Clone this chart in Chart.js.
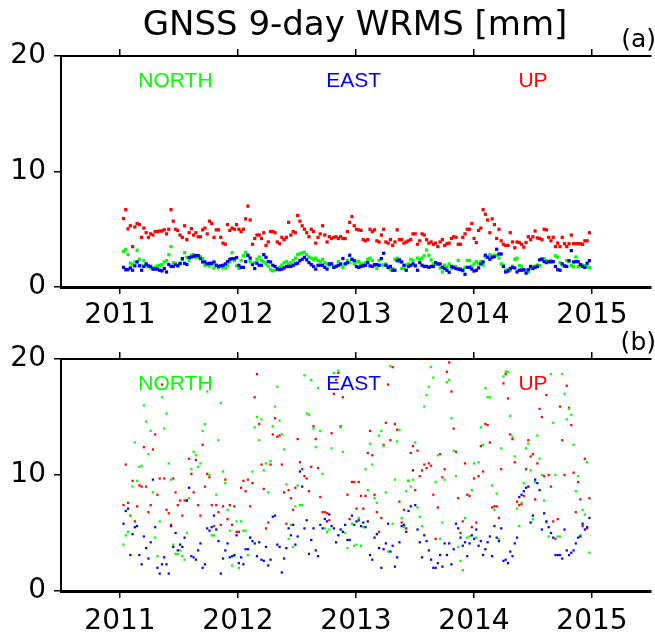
<!DOCTYPE html>
<html>
<head>
<meta charset="utf-8">
<script src="https://cdn.jsdelivr.net/npm/chart.js@4.4.1/dist/chart.umd.min.js"></script>
<style>
  html, body { margin: 0; padding: 0; background: #fff; }
  #wrap { position: relative; width: 655px; height: 635px; overflow: hidden; background: #fff; }
  .panel { position: absolute; left: 0; width: 655px; }
  #panelA { top: 0; height: 336px; z-index: 2; }
  #panelB { top: 320px; height: 315px; z-index: 1; }
</style>
</head>
<body>
<div id="wrap">
  <div class="panel" id="panelA"><canvas id="chartA" width="655" height="336"></canvas></div>
  <div class="panel" id="panelB"><canvas id="chartB" width="655" height="315"></canvas></div>
</div>
<script>
// -- axis ticks and labels --
const yearTicks = [2011, 2012, 2013, 2014, 2015]
const valueTicks = [0, 10, 20]
const componentNames = ['NORTH', 'EAST', 'UP']

// weekly solutions, first epoch ~2011.03
const firstEpoch = 2011.03
const stepYears = 7 / 365.25

// -- panel (a) : WRMS per component [mm] --
const northA = [
  3.1, 3.27, 2.81, 2.06, 1.94, 2.17, 3.18, 2.4, 1.88, 2.28, 1.88, 1.78, 1.65, 1.65, 1.7, 1.83, 1.88, 1.94, 2.17, 2.28,
  2.8, 3.5, 2.1, 2.06, 1.88, 2.0, 2.4, 2.98, 2.57, 2.28, 2.75, 2.8, 2.57, 2.57, 2.63, 2.46, 1.88, 2.0, 1.83, 1.94,
  1.65, 1.88, 1.65, 1.83, 1.65, 1.65, 1.88, 2.17, 2.98, 2.28, 1.83,
  1.6, 2.3, 2.7, 3.0, 2.7, 2.2, 2.0, 2.1, 2.4, 2.6, 2.3, 2.2, 2.0, 1.8, 1.5, 1.4, 1.45, 1.6,
  1.7, 1.9, 2.1, 2.2, 2.0, 2.1, 2.3, 2.5, 2.8, 2.9, 2.95, 3.0, 2.8, 2.6, 2.5, 2.4, 2.5, 2.3, 2.2, 2.4, 2.1, 2.0,
  1.9, 2.0, 1.7, 1.8, 2.2, 1.9, 1.7, 2.0, 2.3, 2.1, 2.4, 2.0, 2.2,
  2.2, 2.0, 2.0, 2.1, 2.4, 2.5, 2.3, 1.9, 1.6, 2.3, 1.9, 1.9, 2.0, 1.8, 1.5, 1.6, 2.4, 2.5, 2.2, 1.6, 1.6,
  1.9, 2.0, 2.4, 2.3, 1.9, 2.5, 2.4, 2.5, 2.7, 3.2, 2.75, 2.35, 2.0, 1.95, 1.95, 1.65, 1.3, 1.9, 1.75, 2.0, 1.6,
  1.7, 1.75, 2.3, 1.6, 1.4, 1.7, 2.3, 2.3, 1.8, 2.0,
  2.2, 2.0, 2.2, 1.9, 2.6, 2.6, 2.8, 2.7, 2.75, 2.75, 2.5, 2.0, 1.9, 1.45, 1.5, 1.45, 1.8, 2.4, 2.5, 1.85,
  1.75, 1.5, 1.4, 1.3, 1.6, 1.75, 1.8, 1.9, 1.85, 2.45, 2.45, 2.3, 2.2, 2.3, 2.2, 2.7, 2.6, 2.1, 1.9, 1.8,
  2.3, 2.2, 1.85, 1.75, 2.6, 1.75, 1.85, 1.9, 1.85, 1.75, 1.7
]
const eastA = [
  1.7, 1.5, 1.5, 1.65, 1.45, 1.83, 2.17, 1.83, 1.45, 1.78, 2.0, 1.83, 1.78, 1.55, 1.55, 1.55, 1.45, 1.4, 1.6, 1.3,
  1.95, 1.78, 1.78, 1.95, 1.83, 2.05, 2.46, 2.05, 1.95, 2.55, 2.6, 2.66, 2.72, 2.72, 2.46, 2.17, 2.17, 2.0, 2.05, 2.05,
  2.17, 1.88, 1.78, 1.83, 1.88, 2.0, 2.2, 2.4, 2.46, 2.46, 2.55,
  1.88, 1.7, 1.7, 2.2, 2.75, 2.5, 1.94, 1.6, 2.06, 1.88, 1.88, 2.8, 2.57, 2.2, 2.17, 1.88, 1.78, 1.55, 1.5, 1.55,
  1.65, 1.78, 1.78, 1.78, 1.88, 2.0, 2.06, 2.28, 2.4, 2.57, 2.35, 2.11, 1.94, 1.78, 1.55, 1.88, 1.88, 1.88, 1.7, 1.55,
  2.0, 2.0, 1.7, 1.78, 1.88, 2.0, 2.46, 2.0, 2.11, 2.75, 2.4, 2.28, 1.78,
  1.7, 1.78, 1.83, 1.88, 2.11, 1.83, 1.78, 1.94, 1.94, 1.88, 2.46, 2.92, 1.88, 1.7, 1.78, 1.45, 1.45, 2.28, 2.35, 2.17,
  1.88, 1.45, 1.78, 1.88, 2.0, 1.83, 1.45, 2.11, 1.88, 1.78, 1.78, 1.7, 1.78, 1.78, 2.11, 2.0, 2.0, 1.7, 1.6, 1.45,
  1.27, 1.78, 1.7, 1.6, 1.55, 1.5, 1.45, 1.1, 1.7, 1.7, 1.55, 1.38,
  1.45, 1.65, 2.0, 2.17, 2.75, 2.57, 2.4, 2.57, 2.63, 3.27, 2.86, 2.86, 1.78, 1.3, 1.38, 1.6, 1.7, 1.65, 1.3, 1.45,
  1.45, 1.5, 1.2, 1.5, 1.78, 1.6, 1.7, 1.78, 2.35, 2.4, 2.2, 2.11, 2.2, 2.17, 2.2, 1.78, 1.5, 1.45, 2.0, 1.83,
  1.78, 2.28, 3.15, 2.17, 2.2, 2.2, 1.94, 1.78, 1.7, 2.06, 2.28
]
const upA = [
  5.93, 6.7, 5.03, 5.3, 3.5, 5.2, 5.5, 5.4, 4.3, 5.1, 4.7, 4.3, 4.6, 4.5, 4.8, 4.8, 4.85, 4.85, 4.95, 4.6,
  5.0, 6.7, 5.7, 5.0, 4.9, 4.5, 4.3, 5.3, 4.1, 4.7, 5.05, 4.5, 4.7, 4.35, 4.35, 4.95, 5.1, 4.6, 5.7, 5.5,
  4.3, 4.95, 4.95, 4.3, 3.8, 3.7, 5.4, 4.9, 5.1, 5.0, 5.4,
  5.0, 4.8, 5.0, 5.9, 7.0, 5.8, 3.7, 4.2, 4.5, 4.5, 4.2, 4.7, 3.6, 3.9, 4.8, 4.8, 4.7, 3.9, 3.75, 4.3,
  4.1, 4.3, 5.6, 4.5, 4.8, 4.7, 6.2, 5.7, 5.3, 5.0, 4.7, 4.35, 5.0, 4.8, 3.8, 4.3, 4.6, 5.3, 4.5, 3.9,
  4.35, 4.2, 4.3, 4.35, 4.2, 4.35, 4.2, 4.2, 4.8, 5.6, 6.1, 5.3, 5.0,
  4.95, 4.9, 4.1, 4.0, 4.1, 5.0, 4.8, 4.95, 4.0, 3.9, 4.5, 5.0, 3.9, 3.8, 4.1, 3.6, 3.9, 4.95, 4.1, 4.1,
  3.8, 3.9, 4.0, 4.1, 4.6, 4.6, 3.7, 4.0, 4.6, 4.5, 4.1, 3.8, 3.9, 3.7, 3.8, 3.5, 3.9, 4.1, 3.6, 3.75,
  3.8, 4.2, 4.35, 4.3, 3.7, 3.7, 4.3, 4.6, 5.0, 5.0,
  5.5, 4.2, 3.85, 4.9, 5.1, 6.7, 6.3, 5.8, 4.7, 5.9, 5.4, 4.2, 5.0, 4.0, 3.7, 3.6, 3.6, 4.7, 3.9, 3.4,
  3.9, 3.85, 3.7, 3.45, 3.85, 4.35, 4.1, 4.35, 4.85, 4.25, 4.2, 4.1, 5.0, 4.95, 4.3, 4.0, 4.3, 3.5, 3.8, 3.5,
  4.3, 3.75, 3.5, 3.75, 4.5, 3.75, 3.75, 3.75, 3.75, 3.7, 4.0, 4.0, 4.7
]

// -- panel (b) --
const northB = [
  4.0, 4.8, 5.1, 6.5, 9.0, 12.8, 9.5, 10.7, 10.8, 16.0, 14.6, 11.8, 13.8, 8.5, 4.6, 3.0, 6.0, 16.7, 14.0, 15.3,
  11.0, 9.6, 4.0, 3.2, 3.2, 3.5, 3.0, 2.7, 5.0, 8.0, 10.5, 12.0, 11.7, 10.7, 11.0, 13.8, 14.4, 17.2, 10.0, 4.8,
  4.8, 8.3, 13.0, 16.2, 10.3, 9.3, 7.0, 5.2, 2.2, 3.0, 6.0,
  2.0, 6.0, 5.2, 5.2, 3.1, 4.6, 10.3, 14.1, 15.0, 13.0, 14.8, 10.4, 11.0, 8.5, 11.2, 14.2, 15.9, 17.6, 14.7, 13.5,
  12.2, 9.2, 4.5, 5.7, 3.8, 7.3, 9.1, 7.4, 7.4, 18.6, 15.3, 15.2, 18.2, 14.0, 12.4, 17.5, 13.8, 10.1, 5.4, 5.1,
  5.3, 12.3, 18.8, 21.0, 19.0, 14.1, 12.0, 5.0, 3.7, 4.4, 5.8, 3.9, 4.0,
  6.3, 3.9, 5.5, 10.5, 8.7, 12.7, 10.9, 8.0, 7.6, 13.4, 13.8, 12.5, 8.5, 3.4, 19.4, 5.8, 9.6, 12.9, 13.9, 6.3,
  5.5, 8.6, 9.5, 9.0, 9.6, 12.8, 7.2, 6.4, 5.6, 15.9, 16.9, 17.6, 19.3, 18.4, 9.4, 11.7, 4.5, 5.9, 9.6, 18.0,
  18.2, 14.9, 12.1, 9.9, 3.8, 2.6, 1.8, 6.3, 4.6, 4.7, 8.7, 11.0,
  4.6, 11.1, 14.1, 12.6, 17.5, 16.7, 16.7, 9.1, 7.0, 8.4, 4.5, 12.3, 18.5, 18.9, 18.9, 15.1, 13.3, 11.6, 7.1, 5.6,
  7.6, 9.3, 12.3, 12.7, 10.4, 6.2, 9.4, 13.4, 11.4, 10.0, 7.8, 5.9, 4.7, 18.7, 14.5, 10.0, 4.7, 4.7, 18.7, 17.0,
  14.8, 15.7, 15.2, 12.6, 8.6, 9.9, 4.8, 7.0, 6.6, 11.1, 3.3
]
const eastB = [
  5.8, 6.9, 7.1, 3.1, 4.9, 5.5, 5.6, 3.1, 2.3, 4.7, 3.7, 2.8, 4.2, 9.6, 5.5, 2.0, 1.5, 2.3, 2.9, 2.3,
  1.5, 5.6, 3.8, 5.0, 3.5, 4.0, 3.8, 4.6, 7.8, 8.9, 3.0, 2.9, 2.7, 3.5, 4.1, 2.0, 2.3, 5.4, 5.2, 5.5,
  6.5, 5.3, 4.3, 1.5, 2.8, 3.5, 4.1, 2.9, 3.0, 3.1, 4.8,
  2.4, 2.9, 2.3, 3.6, 3.6, 4.6, 4.3, 4.1, 3.0, 4.2, 2.7, 2.6, 3.8, 2.2, 2.7, 6.4, 6.5, 4.0, 3.8, 1.6,
  2.8, 3.7, 5.4, 4.8, 5.7, 4.0, 4.7, 10.3, 9.0, 5.4, 6.1, 3.2, 4.4, 5.4, 3.5, 3.0, 5.7, 5.4, 6.2, 6.0,
  6.6, 5.6, 5.4, 4.2, 4.8, 5.3, 5.1, 5.7, 4.4, 4.4, 6.5, 5.7, 6.0,
  6.1, 5.6, 5.9, 5.5, 6.0, 3.1, 2.7, 4.6, 4.9, 3.7, 2.0, 3.6, 4.1, 5.8, 3.4, 3.9, 2.1, 2.9, 4.2, 5.6,
  5.7, 5.1, 6.9, 7.3, 10.4, 7.4, 5.3, 4.2, 2.9, 4.8, 4.3, 3.5, 2.7, 2.0, 2.0, 2.4, 3.1, 2.1, 4.1, 3.1,
  4.1, 2.3, 3.6, 5.8, 5.4, 4.6, 3.9, 4.2, 3.0, 4.1, 4.8, 4.5,
  5.3, 3.9, 4.3, 3.1, 3.6, 4.2, 4.7, 3.0, 5.6, 4.6, 4.3, 5.4, 2.6, 2.7, 2.4, 3.4, 3.0, 4.1, 4.6, 8.1,
  8.3, 8.6, 8.9, 9.0, 5.9, 6.5, 9.6, 9.3, 8.7, 5.3, 6.7, 6.0, 5.5, 5.0, 4.6, 3.1, 3.1, 3.1, 2.8, 5.3,
  3.5, 3.1, 3.3, 3.5, 4.1, 4.6, 4.7, 5.8, 5.3, 5.5, 6.3
]
const upB = [
  7.4, 10.9, 7.6, 6.5, 9.5, 6.0, 7.3, 9.1, 9.0, 12.4, 9.0, 6.8, 7.4, 12.2, 13.5, 8.3, 9.7, 17.8, 9.7, 7.0,
  6.7, 5.7, 9.7, 8.5, 7.4, 7.8, 6.5, 7.8, 7.8, 11.4, 10.1, 8.5, 11.3, 7.4, 6.5, 12.6, 9.0, 10.1, 9.8, 7.4,
  5.6, 7.4, 6.8, 5.7, 7.3, 9.6, 6.2, 7.4, 5.7, 7.3, 5.1,
  5.1, 8.9, 9.5, 8.6, 9.6, 7.3, 9.3, 16.7, 18.7, 14.4, 10.9, 8.8, 5.4, 5.9, 10.9, 13.5, 14.9, 13.3, 13.4, 10.9,
  8.5, 5.8, 8.7, 8.0, 7.0, 8.9, 13.1, 11.1, 10.5, 9.9, 9.7, 8.6, 10.7, 14.2, 13.1, 10.6, 8.1, 6.8, 6.8, 6.7,
  6.1, 13.6, 17.0, 18.2, 18.8, 14.2, 16.7, 21.0, 8.3, 6.2, 9.4, 9.4, 7.1,
  9.4, 8.2, 7.1, 8.2, 11.9, 13.8, 11.7, 8.3, 6.8, 5.1, 6.3, 12.6, 14.5, 17.8, 13.0, 19.3, 14.4, 13.9, 7.7, 5.9,
  7.0, 5.4, 9.5, 11.9, 12.5, 8.7, 12.1, 9.9, 10.4, 10.9, 10.6, 11.0, 10.8, 8.3, 4.5, 7.2, 11.8, 9.8, 10.5, 18.9,
  19.7, 17.2, 14.0, 12.0, 8.0, 5.0, 6.0, 11.0, 8.3, 8.2, 5.5, 9.7,
  5.9, 9.9, 12.5, 10.3, 14.4, 14.3, 12.8, 7.2, 7.3, 7.3, 6.3, 10.5, 17.9, 18.7, 16.6, 13.5, 13.1, 11.1, 7.7, 7.4,
  7.5, 8.2, 10.5, 13.0, 11.6, 11.8, 7.9, 11.0, 15.7, 15.0, 9.9, 16.9, 10.0, 9.0, 6.0, 4.5, 6.2, 15.9, 13.0, 10.0,
  17.7, 15.8, 14.3, 10.2, 6.8, 9.4, 7.9, 5.6, 11.4, 5.4, 8.0
]

const componentColors = ['#00ff00', '#0000ff', '#ff0000']

function toPoints (values) {
  // x = epoch in decimal years, y = WRMS
  return values.map((v, i) => ({ x: firstEpoch + i * stepYears, y: v }))
}

// draws NORTH / EAST / UP inside the plot, the title and the (a)/(b) tag
const textPlugin = {
  id: 'panelText',
  beforeDatasetsDraw (chart, args, opts) {
    const ctx = chart.ctx
    const xs = chart.scales.x
    const ys = chart.scales.y
    const at = [2011.47, 2012.98, 2014.5]
    ctx.save()
    ctx.font = '21px "Liberation Sans", Arial, sans-serif'
    ctx.textAlign = 'center'
    ctx.textBaseline = 'alphabetic'
    componentNames.forEach((name, k) => {
      ctx.fillStyle = componentColors[k]
      ctx.fillText(name, xs.getPixelForValue(at[k]), ys.getPixelForValue(17.3))
    })
    ctx.restore()
  },
  afterDraw (chart, args, opts) {
    const ctx = chart.ctx
    ctx.save()
    ctx.fillStyle = '#000'
    ctx.textBaseline = 'alphabetic'
    if (opts.title) {
      ctx.font = '34px "DejaVu Sans", sans-serif'
      ctx.textAlign = 'center'
      ctx.fillText(opts.title, 355, 35)
    }
    ctx.font = '25px "DejaVu Sans", sans-serif'
    ctx.textAlign = 'right'
    ctx.fillText(opts.tag, 656, opts.tagY)
    ctx.restore()
  }
}

function makePanel (canvasId, north, east, up, cfg) {
  const tickFont = { family: 'DejaVu Sans', size: 28 }
  const gridOpts = { display: true, drawOnChartArea: false, drawTicks: true, tickLength: 7, color: '#000', lineWidth: 1.5 }
  const setYears = s => { s.ticks = yearTicks.map(v => ({ value: v })) }
  const mk = (data, color) => ({
    data: toPoints(data),
    pointStyle: 'rect',
    pointRadius: cfg.radius,
    pointBorderWidth: 0,
    pointBackgroundColor: color,
    backgroundColor: color,
    borderColor: color,
    showLine: false,
    clip: 2
  })
  const ctx = document.getElementById(canvasId).getContext('2d')
  return new Chart(ctx, {
    type: 'scatter',
    data: {
      // first dataset is drawn on top
      datasets: [mk(east, componentColors[1]), mk(north, componentColors[0]), mk(up, componentColors[2])]
    },
    options: {
      responsive: false,
      animation: false,
      events: [],
      layout: { padding: 0 },
      plugins: {
        legend: { display: false },
        tooltip: { enabled: false },
        panelText: { title: cfg.title, tag: cfg.tag, tagY: cfg.tagY }
      },
      scales: {
        x: {
          type: 'linear',
          position: 'bottom',
          min: 2010.5,
          max: 2015.5,
          afterBuildTicks: setYears,
          afterFit: s => { s.height = cfg.bottomH },
          grid: gridOpts,
          border: { display: true, color: '#000', width: 3 },
          ticks: { color: '#000', font: tickFont, padding: cfg.xPad, maxRotation: 0, autoSkip: false, callback: v => String(v) }
        },
        xTop: {
          type: 'linear',
          position: 'top',
          min: 2010.5,
          max: 2015.5,
          afterBuildTicks: setYears,
          afterFit: s => { s.height = cfg.topH },
          grid: gridOpts,
          border: { display: true, color: '#000', width: 2 },
          ticks: { display: false }
        },
        y: {
          type: 'linear',
          position: 'left',
          min: 0,
          max: 20,
          afterBuildTicks: s => { s.ticks = valueTicks.map(v => ({ value: v })) },
          afterFit: s => { s.width = 61 },
          grid: gridOpts,
          border: { display: true, color: '#000', width: 2 },
          ticks: { color: '#000', font: tickFont, padding: 8, callback: v => String(v) }
        }
      }
    },
    plugins: [textPlugin]
  })
}

makePanel('chartA', northA, eastA, upA, {
  radius: 2.3, title: 'GNSS 9-day WRMS [mm]', tag: '(a)', tagY: 46.7, topH: 56, bottomH: 49, xPad: 5
})
makePanel('chartB', northB, eastB, upB, {
  radius: 1.6, title: '', tag: '(b)', tagY: 29.7, topH: 39, bottomH: 44, xPad: 7
})
</script>
</body>
</html>
